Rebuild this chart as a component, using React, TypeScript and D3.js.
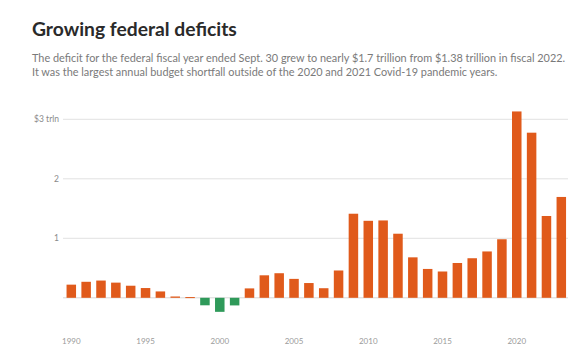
import React from "react";
import * as d3 from "d3";

const years: number[] = d3.range(1990, 2024);
const deficits: number[] = [
  0.221, 0.269, 0.29, 0.255, 0.203, 0.164, 0.107, 0.022, 0.012, -0.126,
  -0.236, -0.128, 0.158, 0.378, 0.413, 0.318, 0.248, 0.161, 0.459, 1.413,
  1.294, 1.3, 1.077, 0.68, 0.485, 0.442, 0.585, 0.665, 0.779, 0.984,
  3.132, 2.775, 1.375, 1.695,
];
const yTicks: number[] = [1, 2, 3];
const yTickLabels: string[] = ["1", "2", "$3 trln"];
const xTickYears: number[] = [1990, 1995, 2000, 2005, 2010, 2015, 2020];

const title = "Growing federal deficits";
const subtitle1 =
  "The deficit for the federal fiscal year ended Sept. 30 grew to nearly $1.7 trillion from $1.38 trillion in fiscal 2022.";
const subtitle2 =
  "It was the largest annual budget shortfall outside of the 2020 and 2021 Covid-19 pandemic years.";

const W = 573;
const H = 357;
const FONT = "Lato, 'Open Sans', sans-serif";

export default function App() {
  const x = d3
    .scaleBand<number>()
    .domain(years)
    .range([62, 570.6])
    .paddingInner(0.36)
    .paddingOuter(0.306);
  const y = d3.scaleLinear().domain([0, 3]).range([297.8, 119.3]);
  const gridX0 = 63;
  const gridX1 = 568;

  return (
    <svg
      width={W}
      height={H}
      style={{ position: "absolute", left: 0, top: 0, background: "#fff" }}
      fontFamily={FONT}
    >
      <rect width={W} height={H} fill="#fff" />
      <text x={32} y={36} fontSize={19.3} fontWeight={700} fill="#2a2a2a">
        {title}
      </text>
      <text x={32} y={61.5} fontSize={10.9} fill="#7a7a7a">
        {subtitle1}
      </text>
      <text x={32} y={76} fontSize={10.9} fill="#7a7a7a">
        {subtitle2}
      </text>

      {yTicks.map((t, i) => (
        <g key={t}>
          <line
            x1={gridX0}
            x2={gridX1}
            y1={y(t)}
            y2={y(t)}
            stroke="#e2e2e2"
            strokeWidth={1}
          />
          <text
            x={59}
            y={y(t)}
            dy="0.35em"
            textAnchor="end"
            fontSize={8.5}
            fill="#8a8a8a"
          >
            {yTickLabels[i]}
          </text>
        </g>
      ))}
      <line
        x1={gridX0}
        x2={gridX1}
        y1={y(0)}
        y2={y(0)}
        stroke="#d8d8d8"
        strokeWidth={1}
      />

      {years.map((yr, i) => {
        const v = deficits[i];
        const x0 = x(yr) as number;
        const top = v >= 0 ? y(v) : y(0);
        const h = Math.max(Math.abs(y(v) - y(0)), 1);
        return (
          <rect
            key={yr}
            x={x0}
            y={top}
            width={x.bandwidth()}
            height={h}
            fill={v >= 0 ? "#e05a1b" : "#2f9a5a"}
          />
        );
      })}

      {xTickYears.map((yr) => (
        <text
          key={yr}
          x={(x(yr) as number) + x.bandwidth() / 2}
          y={344}
          textAnchor="middle"
          fontSize={8}
          fill="#9a9a9a"
        >
          {yr}
        </text>
      ))}
    </svg>
  );
}
